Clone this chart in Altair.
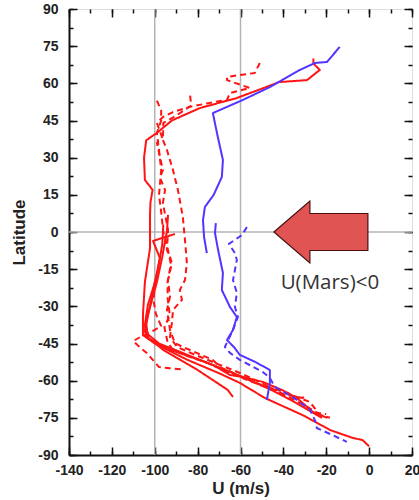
import altair as alt
import pandas as pd

# ---------------- data ----------------
blue_s1_u = [-13.7, -19.7, -25.3, -32.3, -46.3, -58.9, -72.9, -70.5, -68.2, -68.7, -72.5, -76.6, -77.5, -77.0, -75.7]
blue_s1_lat = [74.7, 68.6, 68.2, 65.4, 58.5, 53.3, 48.0, 38.0, 29.1, 22.2, 15.0, 10.1, 4.8, -2.0, -8.5]

blue_s2_u = [-71.5, -71.9, -70.5, -68.2, -68.7, -64.9, -61.7, -63.5, -66.3, -63.0, -60.3, -53.0, -46.3, -46.3, -47.7]
blue_s2_lat = [3.6, -0.4, -7.0, -16.5, -23.4, -30.3, -34.3, -39.5, -43.6, -46.5, -49.6, -52.5, -55.7, -60.9, -67.8]

blue_d_u = [-57.0, -59.3, -65.4, -62.6, -61.7, -63.5, -61.7, -62.6, -61.2, -63.5, -67.3, -64.9, -60.3, -49.6, -46.3, -44.0, -35.0, -27.6, -25.3, -24.4, -17.0, -10.4]
blue_d_lat = [2.0, -1.2, -4.8, -8.5, -11.3, -19.4, -24.6, -30.3, -34.3, -39.5, -46.4, -48.8, -51.6, -56.5, -58.9, -62.5, -67.0, -71.8, -75.9, -79.1, -82.0, -84.7]

red_s1_u = [-26, -26, -23, -29, -42, -48, -62, -79, -92, -99, -104, -105, -104.6, -101, -102, -102.2, -102.2, -104.6, -105.5, -105.5, -100, -85, -70, -60.3, -48.6, -31, -18, -8, -3, 0]
red_s1_lat = [70, 68, 65.4, 61.3, 60.5, 58.5, 54, 50, 45, 40, 37, 30, 21, 17, 12, 6.9, -6.5, -20.2, -33.5, -41.6, -45, -51.5, -57, -60.9, -67, -73.9, -80, -83, -84, -86.5]

red_s2_u = [-90.6, -100.8, -97.6, -99.9, -103.2, -104.6, -104.0, -96.0, -80.0, -73.0, -66.0, -63.5]
red_s2_lat = [-0.8, -3.6, -10.5, -20.2, -29.4, -37.5, -42.0, -47.6, -55.7, -59.7, -63.7, -66.6]

red_s3_u = [-93.8, -94.3, -96.6, -99.0, -103.2, -104.6, -98.0, -85.0, -72.0, -65.0, -58.9, -49.6, -40.0, -33.7, -26.2, -19.7]
red_s3_lat = [6.9, 0.4, -10.5, -20.2, -33.5, -40.3, -45.0, -49.5, -54.0, -57.7, -58.5, -60.5, -64.0, -67.0, -72.6, -75.0]

red_s4_u = [-96.0, -96.5, -98.5, -101.5, -104.0, -103.0, -93.0, -78.0, -66.0, -55.0, -45.0, -35.0, -28.0, -22.0]
red_s4_lat = [3.0, -5.0, -15.0, -27.0, -37.0, -43.0, -47.5, -52.0, -56.0, -60.0, -64.0, -68.5, -72.0, -75.0]

red_d1_u = [-51, -53.3, -66.3, -66.3, -55.6, -64.9, -66.3, -75, -83.6, -91.5, -96.2, -99, -96.6, -99, -97.6, -96.2, -97.6, -95.2, -96.2, -93.8, -94.3, -92.9, -92, -93.8, -92.9, -94.3, -92.9, -90.6, -86.9, -72.9, -69.6, -54.2, -38.4, -27.6, -23, -18.3]
red_d1_lat = [68.2, 64.2, 62.6, 61.3, 58.1, 56.1, 53.3, 52, 50.5, 48.4, 46.4, 44, 38.3, 36, 30.3, 25, 22, 17, 11.7, 0.8, -7.3, -10, -12.5, -19.4, -26.2, -31.5, -39.5, -44.8, -46.4, -51.6, -54.5, -60.5, -65, -68.6, -73.8, -75]

red_d2_u = [-83.5, -83.0, -90.0, -96.0, -96.2, -94.3, -91.5, -89.2, -86.9, -85.9, -85.0, -85.9, -88.3, -87.3, -91.5, -92.0, -92.9, -89.6, -80.0, -70.0, -60.0, -50.0, -40.0, -30.0, -24.0, -20.0]
red_d2_lat = [55.0, 51.0, 47.0, 44.0, 37.1, 33.1, 25.0, 17.0, 6.1, -3.2, -12.5, -19.4, -23.4, -27.4, -31.5, -36.7, -42.4, -46.4, -50.0, -53.5, -57.0, -61.0, -65.5, -70.0, -73.0, -73.5]

red_d3_u = [-99, -97, -97, -99, -98, -97, -98, -97, -96, -94, -92.5, -94, -94, -93, -95.5, -94, -92, -85, -75, -62, -50, -40, -31, -30]
red_d3_lat = [53, 49, 45, 40, 33, 25, 15, 8, 0, -6.5, -13, -20.2, -26.5, -33.5, -38.5, -44.5, -47, -50, -53, -58, -62, -65.5, -67, -66]

red_d4_u = [-100.0, -100.5, -99.5, -97.0, -101.0, -106.0, -110.0, -107.0, -103.5, -100.5, -98.0, -93.0, -86.0]
red_d4_lat = [-20.0, -28.0, -33.0, -38.0, -40.0, -42.0, -44.0, -46.5, -49.0, -52.0, -54.5, -55.0, -55.5]

series = [
    ("red_s1", "solid", "red", red_s1_u, red_s1_lat),
    ("red_s2", "solid", "red", red_s2_u, red_s2_lat),
    ("red_s3", "solid", "red", red_s3_u, red_s3_lat),
    ("red_s4", "solid", "red", red_s4_u, red_s4_lat),
    ("red_d1", "dashed", "red", red_d1_u, red_d1_lat),
    ("red_d2", "dashed", "red", red_d2_u, red_d2_lat),
    ("red_d3", "dashed", "red", red_d3_u, red_d3_lat),
    ("red_d4", "dashed", "red", red_d4_u, red_d4_lat),
    ("blue_s1", "solid", "blue", blue_s1_u, blue_s1_lat),
    ("blue_s2", "solid", "blue", blue_s2_u, blue_s2_lat),
    ("blue_d", "dashed", "blue", blue_d_u, blue_d_lat),
]

grid_u = [-100, -60]
grid_lat = [0]

x_major = list(range(-140, 21, 20))
x_minor = list(range(-140, 21, 10))
y_major = list(range(-90, 91, 15))
y_minor = [v / 2 for v in range(-180, 181, 15)]

arrow_u = [-22.5]
arrow_lat = [0]
label_u = [-18.3]
label_lat = [-20.5]
label_text = ["U(Mars)<0"]

# ---------------- build tables ----------------
rows = []
for name, kind, col, us, lats in series:
    for i, (u, la) in enumerate(zip(us, lats)):
        rows.append({"series": name, "kind": kind, "col": col, "u": u, "lat": la, "idx": i})
lines_df = pd.DataFrame(rows)

W, H = 343, 446
FONT = "Liberation Sans"
xs = alt.Scale(domain=[-140, 20], nice=False, zero=False)
ys = alt.Scale(domain=[-90, 90], nice=False, zero=False)

main_x_axis = alt.Axis(values=x_major, orient="bottom", title="U (m/s)", grid=False, ticks=False,
                       labelExpr="datum.value + ''",
                       labelPadding=8, labelFont=FONT, labelFontWeight="bold", labelFontSize=14,
                       labelColor="#222", titleFont=FONT, titleFontWeight="bold", titleFontSize=17,
                       titleColor="#222", titlePadding=3, domainColor="#111", domainWidth=2,
                       labelFlush=False, labelOverlap=False)
main_y_axis = alt.Axis(values=y_major, orient="left", title="Latitude", grid=False, ticks=False,
                       labelExpr="datum.value + ''",
                       labelPadding=11, labelFont=FONT, labelFontWeight="bold", labelFontSize=14,
                       labelColor="#222", titleFont=FONT, titleFontWeight="bold", titleFontSize=17,
                       titleColor="#222", titlePadding=9, domainColor="#111", domainWidth=2,
                       labelFlush=False, labelOverlap=False)

lines = alt.Chart(lines_df).mark_line(strokeWidth=2, strokeCap="butt", strokeJoin="round").encode(
    x=alt.X("u:Q", scale=xs, axis=main_x_axis),
    y=alt.Y("lat:Q", scale=ys, axis=main_y_axis),
    detail="series:N",
    order="idx:Q",
    color=alt.Color("col:N", scale=alt.Scale(domain=["red", "blue"], range=["#ff1414", "#5236ff"]), legend=None),
    strokeDash=alt.StrokeDash("kind:N", scale=alt.Scale(domain=["solid", "dashed"], range=[[1, 0], [6, 4]]), legend=None),
)


def tick_layer(xvals, yvals, xorient, yorient, size):
    xa = alt.Axis(values=xvals, orient=xorient, offset=-H, labels=False, domain=False, grid=False,
                  ticks=True, tickSize=size, tickColor="#111", tickWidth=1.5, title=None)
    ya = alt.Axis(values=yvals, orient=yorient, offset=-W, labels=False, domain=False, grid=False,
                  ticks=True, tickSize=size, tickColor="#111", tickWidth=1.5, title=None)
    return alt.Chart(lines_df).mark_line(opacity=0).encode(
        x=alt.X("u:Q", scale=xs, axis=xa),
        y=alt.Y("lat:Q", scale=ys, axis=ya),
        detail="series:N",
    )


ticks = [
    tick_layer(x_major, y_major, "top", "right", 8),      # bottom edge / left edge, major
    tick_layer(x_minor, y_minor, "top", "right", 4),      # bottom edge / left edge, minor
    tick_layer(x_major, y_major, "bottom", "left", 8),    # top edge / right edge, major
    tick_layer(x_minor, y_minor, "bottom", "left", 4),    # top edge / right edge, minor
]

gx = alt.Chart(pd.DataFrame({"u": grid_u})).mark_rule(color="#b4b4b4", strokeWidth=1.5).encode(
    x=alt.X("u:Q", scale=xs, axis=None))
gy = alt.Chart(pd.DataFrame({"lat": grid_lat})).mark_rule(color="#b4b4b4", strokeWidth=1.5).encode(
    y=alt.Y("lat:Q", scale=ys, axis=None))

arrow_path = "M -1 0 L -0.234 -0.66 L -0.234 -0.394 L 1 -0.394 L 1 0.394 L -0.234 0.394 L -0.234 0.66 Z"
arrow = alt.Chart(pd.DataFrame({"u": arrow_u, "lat": arrow_lat})).mark_point(
    shape=arrow_path, size=94 * 94, filled=True, fill="#e05454", stroke="#4a1010", strokeWidth=1.2, opacity=1
).encode(x=alt.X("u:Q", scale=xs, axis=None), y=alt.Y("lat:Q", scale=ys, axis=None))

label = alt.Chart(pd.DataFrame({"u": label_u, "lat": label_lat, "t": label_text})).mark_text(
    font="Open Sans", fontSize=20.5, color="#333", align="center", baseline="middle"
).encode(x=alt.X("u:Q", scale=xs, axis=None), y=alt.Y("lat:Q", scale=ys, axis=None), text="t:N")

chart = alt.layer(gx, gy, *ticks, lines, arrow, label).resolve_axis(
    x="independent", y="independent"
).properties(
    width=W, height=H,
    autosize=alt.AutoSizeParams(type="none"),
    padding={"left": 69, "top": 9, "right": 7, "bottom": 45},
).configure_view(stroke="#222", strokeWidth=1.5).configure(background="white")

chart.save("out.html", embed_options={"renderer": "svg", "actions": False})
